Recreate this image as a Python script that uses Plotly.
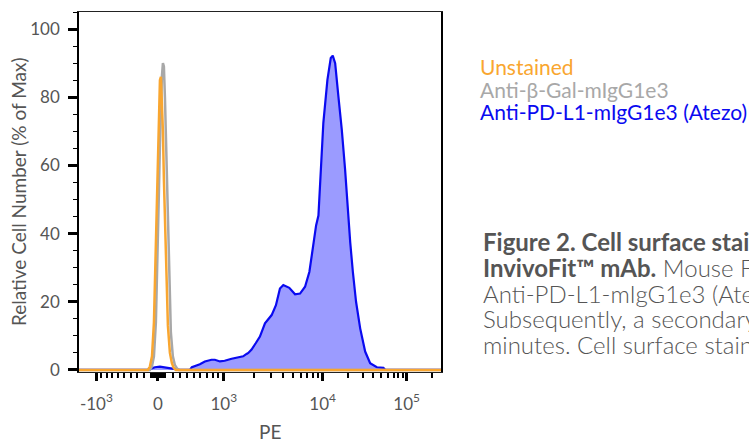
import numpy as np
import plotly.graph_objects as go

# PE intensity (raw units) vs relative cell number (% of max)
unstained_pe = [-2000, -145, -115, -85, -57, -43, -29, -14, 0, 13, 27, 40, 53, 67, 80, 94,
                107, 120, 134, 161, 188, 215, 243, 300000]
unstained_pct = [0, 0, 1, 4, 14, 25, 38, 52, 66, 78, 85, 86, 80, 70, 56, 44,
                 32, 21, 13, 5, 2, 0.5, 0, 0]

bgal_pe = [-2000, -115, -86, -57, -29, -14, 0, 13, 27, 40, 53, 67, 80, 94, 107, 120,
           134, 147, 161, 174, 201, 228, 256, 283, 300000]
bgal_pct = [0, 0, 1, 4, 14, 25, 38, 52, 66, 78, 86, 90, 89, 80, 68, 54,
            40, 28, 18, 11, 4, 1.5, 0.5, 0, 0]

pdl1_pe = [-2000, -150, -100, -43, 27, 94, 188, 300, 440, 470, 591, 670, 780, 838, 928,
           1020, 1200, 1400, 1570, 1700, 1770, 1910, 1980, 2110, 2320, 2610, 3050, 3370,
           3700, 4000, 4600, 5260, 5910, 6640, 7350, 7950, 8590, 9070, 9590, 10200, 11400,
           12500, 13200, 14100, 15400, 16900, 18500, 19700, 21300, 22900, 25000, 28000,
           32100, 36800, 44200, 52900, 56000, 300000]
pdl1_pct = [0, 0, 0.4, 0.8, 1.0, 0.8, 0.3, 0, 0, 0.8, 1.7, 2.5, 3.0, 3.0, 2.5,
            2.7, 3.3, 3.7, 4.0, 4.7, 5.0, 6.0, 6.8, 7.9, 9.8, 13.7, 16.1, 19.0,
            23.9, 24.9, 24.1, 22.2, 22.4, 24.4, 28.8, 36.5, 42.4, 45.3, 57.9, 72.5, 85.1,
            91.5, 92.2, 90.0, 80.3, 70.6, 58.9, 48.2, 37.5, 28.8, 20.0, 12.2,
            5.4, 2.0, 0.8, 0.6, 0, 0]

series_names = ["Unstained", "Anti-β-Gal-mIgG1e3", "Anti-PD-L1-mIgG1e3 (Atezo)"]
series_colors = ["#F9A630", "#A8A8A8", "#0A0AF0"]

major_vals = [-1e3, 0, 1e3, 1e4, 1e5]
major_text = ["-10<sup>3</sup>", "0", "10<sup>3</sup>", "10<sup>4</sup>", "10<sup>5</sup>"]

caption_lines = [
    "<b>Figure 2. Cell surface staining of PD-L1 with Anti-PD-L1</b>",
    "<b>InvivoFit™ mAb.</b> Mouse FL cells were stained with",
    "Anti-PD-L1-mIgG1e3 (Atezo) or Anti-β-Gal-mIgG1e3.",
    "Subsequently, a secondary antibody was added for 30",
    "minutes. Cell surface staining was analyzed by flow cytometry.",
]

# biexponential display scale: ~linear around zero, log above 10^3
DECADE_U = [-1, 0, 1, 2, 3]
DECADE_POS = [48, 218, 400, 673, 905]


def biex(v):
    v = np.asarray(v, dtype=float)
    a = np.abs(v)
    u = np.where(a <= 1000, np.arcsinh(a / 1000) / np.arcsinh(1),
                 1 + np.log10(np.maximum(a, 1000) / 1000))
    u = np.sign(v) * u
    pos = np.interp(u, DECADE_U, DECADE_POS)
    lo_slope = DECADE_POS[1] - DECADE_POS[0]
    hi_slope = DECADE_POS[-1] - DECADE_POS[-2]
    pos = np.where(u < DECADE_U[0], DECADE_POS[0] + (u - DECADE_U[0]) * lo_slope, pos)
    pos = np.where(u > DECADE_U[-1], DECADE_POS[-1] + (u - DECADE_U[-1]) * hi_slope, pos)
    return pos


minor_vals = []
for s in (-1, 1):
    minor_vals += [s * m * 10 for m in range(1, 10)]
    minor_vals += [s * m * 100 for m in range(1, 10)]
minor_vals += [m * 1000 for m in range(2, 10)] + [m * 10000 for m in range(2, 10)] + [2e5]

FONT = "Lato"
fig = go.Figure()
fig.add_trace(go.Scatter(x=biex(pdl1_pe), y=pdl1_pct, mode="lines", fill="tozeroy",
                         fillcolor="#9B9BFF", line=dict(color=series_colors[2], width=2.2),
                         name=series_names[2]))
fig.add_trace(go.Scatter(x=biex(bgal_pe), y=bgal_pct, mode="lines",
                         line=dict(color=series_colors[1], width=2.5), name=series_names[1]))
fig.add_trace(go.Scatter(x=biex(unstained_pe), y=unstained_pct, mode="lines",
                         line=dict(color=series_colors[0], width=2.5), name=series_names[0]))

fig.update_xaxes(range=[0, 1000], tickmode="array", tickvals=biex(major_vals), ticktext=major_text,
                 ticks="outside", ticklen=8, tickwidth=3, tickcolor="black",
                 showline=True, linecolor="#222", linewidth=1.2, mirror=True,
                 showgrid=False, zeroline=False, layer="below traces", automargin=False,
                 tickfont=dict(family=FONT, size=17, color="#555"), ticklabelstandoff=8,
                 minor=dict(tickmode="array", tickvals=biex(minor_vals), ticks="outside",
                            ticklen=5, tickwidth=1.5, tickcolor="black", showgrid=False))
fig.update_yaxes(range=[-0.6, 105], tickmode="array", tickvals=[0, 20, 40, 60, 80, 100],
                 ticks="outside", ticklen=9, tickwidth=3, tickcolor="black",
                 showline=True, linecolor="black", linewidth=1.5, mirror=True,
                 showgrid=False, zeroline=False, layer="below traces", automargin=False,
                 tickfont=dict(family=FONT, size=17, color="#555"), ticklabelstandoff=5,
                 minor=dict(dtick=5, tick0=0, ticks="outside", ticklen=4, tickwidth=1.2,
                            tickcolor="black", showgrid=False))

ann = [
    dict(text="Relative Cell Number (% of Max)", x=-0.1685, y=0.5, textangle=-90,
         xanchor="center", font=dict(size=19, color="#555")),
    dict(text="PE", x=0.5276, y=-0.164, xanchor="center", font=dict(size=19, color="#555")),
]
for i, (name, col) in enumerate(zip(series_names, series_colors)):
    ann.append(dict(text=name, x=1.102, y=0.8478 - i * 0.0621, xanchor="left",
                    font=dict(size=21, color=col)))
for i, line in enumerate(caption_lines):
    ann.append(dict(text=line, x=1.1105, y=0.363 - i * 0.0718, xanchor="left",
                    font=dict(size=24, color="#555", weight=300)))
for a in ann:
    a.update(xref="paper", yref="paper", showarrow=False, yanchor="middle")
    a["font"]["family"] = FONT
fig.update_layout(annotations=ann)

fig.update_layout(width=749, height=441, margin=dict(l=79, r=308, t=12, b=69),
                  plot_bgcolor="white", paper_bgcolor="white", showlegend=False)
# drop the default 8px body margin so the figure fills the window
fig.write_html("out.html", config={"displayModeBar": False},
               post_script="document.body.style.margin='0';document.body.style.overflow='hidden';")
